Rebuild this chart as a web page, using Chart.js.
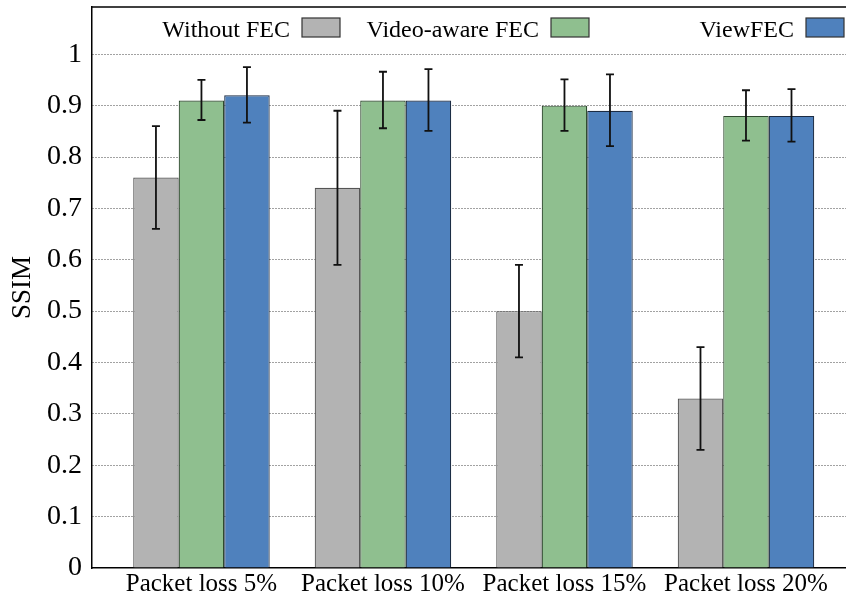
<!DOCTYPE html>
<html>
<head>
<meta charset="utf-8">
<script src="https://cdn.jsdelivr.net/npm/chart.js@4.4.0/dist/chart.umd.min.js"></script>
<style>
  html, body { margin: 0; padding: 0; background: #fff; }
  #wrap { width: 846px; height: 597px; }
</style>
</head>
<body>
<div id="wrap"><canvas id="chart" width="846" height="597"></canvas></div>
<script>
// Data
const categories = ['Packet loss 5%', 'Packet loss 10%', 'Packet loss 15%', 'Packet loss 20%'];
const seriesNames = ['Without FEC', 'Video-aware FEC', 'ViewFEC'];

const withoutFec     = [0.76, 0.74, 0.50, 0.33];
const withoutFecLow  = [0.66, 0.59, 0.41, 0.23];
const withoutFecHigh = [0.86, 0.89, 0.59, 0.43];

const videoAware     = [0.91, 0.91, 0.90, 0.88];
const videoAwareLow  = [0.872, 0.856, 0.851, 0.832];
const videoAwareHigh = [0.95, 0.966, 0.951, 0.93];

const viewFec        = [0.92, 0.91, 0.89, 0.88];
const viewFecLow     = [0.867, 0.851, 0.821, 0.83];
const viewFecHigh    = [0.975, 0.971, 0.961, 0.932];

const yTicks = [0, 0.1, 0.2, 0.3, 0.4, 0.5, 0.6, 0.7, 0.8, 0.9, 1];

const SERIF = '"Liberation Serif", "Times New Roman", serif';

function toPoints(values) {
  return values.map((v, i) => ({ x: i, y: v }));
}

function makeDataset(label, values, low, high, fill, border) {
  return {
    label: label,
    data: toPoints(values),
    errLow: low,
    errHigh: high,
    backgroundColor: fill,
    borderColor: border,
    borderWidth: 1.2,
    categoryPercentage: 0.752,
    barPercentage: 1.0,
  };
}

// ── Error bars ───────────────────────────────────────────────
const errorBars = {
  id: 'errorBars',
  afterDatasetsDraw(chart) {
    const { ctx, scales: { y } } = chart;
    ctx.save();
    ctx.strokeStyle = '#111';
    ctx.lineWidth = 1.8;
    chart.data.datasets.forEach((ds, di) => {
      const meta = chart.getDatasetMeta(di);
      meta.data.forEach((bar, i) => {
        const x = bar.x;
        const yLo = y.getPixelForValue(ds.errLow[i]);
        const yHi = y.getPixelForValue(ds.errHigh[i]);
        ctx.beginPath();
        ctx.moveTo(x, yLo); ctx.lineTo(x, yHi);
        ctx.moveTo(x - 4, yLo); ctx.lineTo(x + 4, yLo);
        ctx.moveTo(x - 4, yHi); ctx.lineTo(x + 4, yHi);
        ctx.stroke();
      });
    });
    ctx.restore();
  }
};

// ── Frame top + gnuplot style key ────────────────────────────
const frameAndKey = {
  id: 'frameAndKey',
  afterDraw(chart) {
    const { ctx, chartArea } = chart;
    ctx.save();
    ctx.strokeStyle = '#000';
    ctx.lineWidth = 1.5;
    ctx.beginPath();
    ctx.moveTo(chartArea.left, chartArea.top);
    ctx.lineTo(chartArea.right, chartArea.top);
    ctx.stroke();

    const swatchX = [302, 551, 806];
    ctx.font = '24px ' + SERIF;
    ctx.textAlign = 'right';
    ctx.textBaseline = 'alphabetic';
    ctx.fillStyle = '#000';
    chart.data.datasets.forEach((ds, i) => {
      const sx = swatchX[i];
      ctx.fillText(ds.label, sx - 12, 37);
      ctx.fillStyle = ds.backgroundColor;
      ctx.fillRect(sx, 18, 38, 19);
      ctx.strokeStyle = '#333';
      ctx.lineWidth = 1.2;
      ctx.strokeRect(sx, 18, 38, 19);
      ctx.fillStyle = '#000';
    });
    ctx.restore();
  }
};

// ── Chart ────────────────────────────────────────────────────
const ctx = document.getElementById('chart').getContext('2d');
new Chart(ctx, {
  type: 'bar',
  data: {
    datasets: [
      makeDataset(seriesNames[0], withoutFec, withoutFecLow, withoutFecHigh, '#b3b3b3', '#555'),
      makeDataset(seriesNames[1], videoAware, videoAwareLow, videoAwareHigh, '#8fbf8f', '#2f4a2f'),
      makeDataset(seriesNames[2], viewFec, viewFecLow, viewFecHigh, '#4f81bd', '#1c2c44'),
    ]
  },
  options: {
    responsive: false,
    animation: false,
    devicePixelRatio: 1,
    layout: { padding: { top: 7, right: 0, left: 0, bottom: 0 } },
    plugins: {
      legend: { display: false },
      tooltip: { enabled: false },
    },
    scales: {
      x: {
        type: 'linear',
        min: -0.603,
        max: 3.551,
        offset: false,
        afterBuildTicks: scale => {
          scale.ticks = categories.map((c, i) => ({ value: i }));
        },
        afterFit: scale => {
          scale.height = 29;
          scale.paddingLeft = 0;
          scale.paddingRight = 0;
        },
        ticks: {
          color: '#000',
          font: { family: SERIF, size: 25 },
          padding: 1,
          maxRotation: 0,
          autoSkip: false,
          callback: v => categories[v],
        },
        grid: { display: false, drawTicks: false },
        border: { display: true, color: '#000', width: 1.5 },
      },
      y: {
        min: 0,
        max: 1.092,
        afterBuildTicks: scale => {
          scale.ticks = yTicks.map(v => ({ value: v }));
        },
        afterFit: scale => {
          scale.width = 92;
          scale.paddingTop = 0;
          scale.paddingBottom = 0;
        },
        ticks: {
          color: '#000',
          font: { family: SERIF, size: 28 },
          padding: 10,
          callback: v => String(Number(v.toFixed(1))),
        },
        grid: {
          drawTicks: false,
          color: c => (c.tick && c.tick.value === 0) ? 'rgba(0,0,0,0)' : '#444',
          lineWidth: 1,
        },
        border: { display: true, color: '#000', width: 1.5, dash: [1, 2] },
        title: {
          display: true,
          text: 'SSIM',
          color: '#000',
          font: { family: SERIF, size: 27 },
          padding: { top: 7, bottom: 0 },
        },
      },
    },
  },
  plugins: [errorBars, frameAndKey],
});
</script>
</body>
</html>
